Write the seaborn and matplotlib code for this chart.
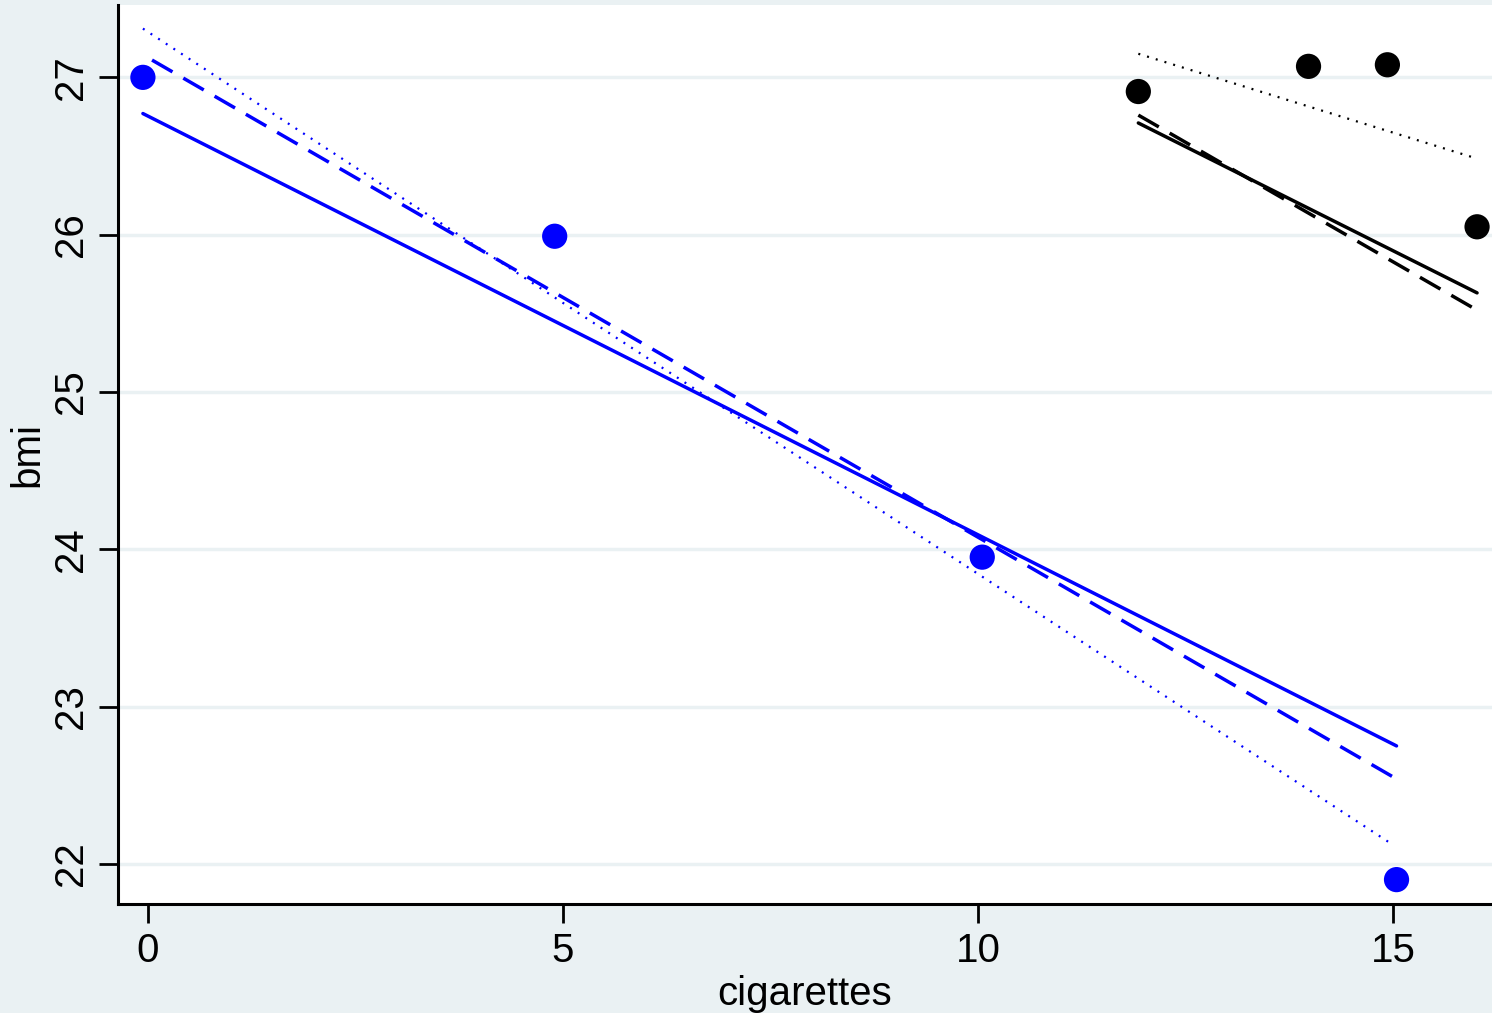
import numpy as np
import pandas as pd
import matplotlib
matplotlib.use("Agg")
import matplotlib.pyplot as plt
import seaborn as sns

# Scatter data
blue_x = [-0.06, 4.90, 10.05, 15.04]
blue_y = [27.00, 25.99, 23.95, 21.90]
black_x = [11.93, 13.98, 14.93, 16.01]
black_y = [26.91, 27.07, 27.08, 26.05]

# Fitted line endpoints
blue_solid_x = [-0.06, 15.04]
blue_solid_y = [26.77, 22.75]
blue_dash_x = [0.05, 15.04]
blue_dash_y = [27.11, 22.54]
blue_dot_x = [-0.06, 15.0]
blue_dot_y = [27.31, 22.12]
black_solid_x = [11.93, 16.01]
black_solid_y = [26.71, 25.63]
black_dash_x = [11.93, 16.01]
black_dash_y = [26.76, 25.52]
black_dot_x = [11.93, 15.97]
black_dot_y = [27.15, 26.49]

xticks = [0, 5, 10, 15]
yticks = [22, 23, 24, 25, 26, 27]

BG = "#EAF1F3"
sns.set_theme(style="white")
plt.rcParams['font.family'] = ['Liberation Sans', 'DejaVu Sans']
plt.rcParams['text.color'] = 'black'
plt.rcParams['axes.labelcolor'] = 'black'
plt.rcParams['xtick.color'] = 'black'
plt.rcParams['ytick.color'] = 'black'

fig = plt.figure(figsize=(14.92, 10.13), dpi=100, facecolor=BG)
ax = fig.add_axes([118/1492, 109/1013, 1 - 118/1492, (904-5)/1013])
ax.set_facecolor("white")

for yv in yticks:
    ax.axhline(yv, color=BG, lw=2.5, zorder=0)

def line(x, y, color, ls, lw):
    df = pd.DataFrame({"x": x, "y": y})
    sns.lineplot(data=df, x="x", y="y", ax=ax, color=color, lw=lw, linestyle=ls, zorder=2)

line(blue_solid_x, blue_solid_y, "#0000FF", "-", 2.5)
line(blue_dash_x, blue_dash_y, "#0000FF", (0, (6.8, 3.6)), 2.5)
line(blue_dot_x, blue_dot_y, "#0000FF", (0, (0.9, 3.2)), 1.6)
line(black_solid_x, black_solid_y, "black", "-", 2.5)
line(black_dash_x, black_dash_y, "black", (0, (6.8, 3.6)), 2.5)
line(black_dot_x, black_dot_y, "black", (0, (0.9, 3.2)), 1.6)

sns.scatterplot(x=blue_x, y=blue_y, ax=ax, color="#0000FF", s=330, edgecolor="none", zorder=3)
sns.scatterplot(x=black_x, y=black_y, ax=ax, color="black", s=330, edgecolor="none", zorder=3)

ax.set_xlim(-0.36, 16.19)
ax.set_ylim(21.745, 27.46)
ax.set_xticks(xticks)
ax.set_yticks(yticks)
ax.set_xticklabels([str(v) for v in xticks])
ax.set_yticklabels([str(v) for v in yticks], rotation=90, va="center")
ax.tick_params(axis="both", which="major", length=14, width=2, colors="black",
               labelsize=29, pad=6, direction="out", bottom=True, left=True)
for s in ["top", "right"]:
    ax.spines[s].set_visible(False)
for s in ["left", "bottom"]:
    ax.spines[s].set_color("black")
    ax.spines[s].set_linewidth(2.2)
ax.set_xlabel("cigarettes", fontsize=29, labelpad=4, color="black")
ax.set_ylabel("bmi", fontsize=29, labelpad=4, color="black")
ax.grid(False)

fig.savefig("out.png", dpi=100, facecolor=BG)
